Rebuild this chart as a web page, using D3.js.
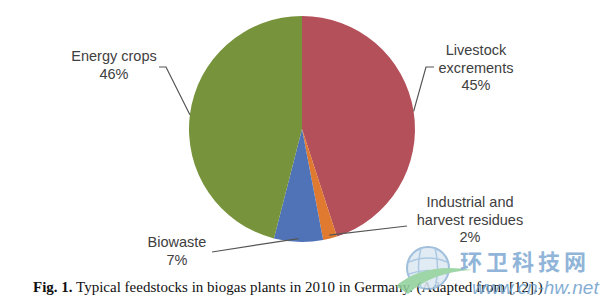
<!DOCTYPE html>
<html>
<head>
<meta charset="utf-8">
<script src="https://cdn.jsdelivr.net/npm/d3@7"></script>
<style>
	body { margin: 0; background: #fff; }
	svg { display: block; }
	.lbl { font-family: "Liberation Sans", Arial, sans-serif; font-size: 14.5px; fill: #404040; }
	.leader { fill: none; stroke: #555; stroke-width: 1.2; }
</style>
</head>
<body>
<svg id="chart" width="600" height="306"></svg>
<script>
// data
var categories = ['Livestock excrements','Industrial and harvest residues','Biowaste','Energy crops']
var shares = [45,2,7,46]
var label_lines = [
	['Livestock','excrements','45%'],
	['Industrial and','harvest residues','2%'],
	['Biowaste','7%'],
	['Energy crops','46%']
]
var colors = ['#B4505A','#E07A30','#4F73B6','#77933C']

// layout: label centre + where the leader starts (elbow optional)
var layout = [
	{x:476, y:55, leader:[[434,67],[426,67]]},
	{x:470, y:207, leader:[[407,226]]},
	{x:177, y:247, leader:[[212,252]]},
	{x:114, y:61, leader:[[159,67],[166,67]]}
]

var svg = d3.select('#chart'),
	cx = 302,
	cy = 129,
	radius = 113

var data = categories.map(function(c,i){
	return {name:c, value:shares[i], lines:label_lines[i], color:colors[i], pos:layout[i]}
})

var pie = d3.pie()
	.sort(null)
	.value(function(d){ return d.value })
var arc = d3.arc()
	.innerRadius(0)
	.outerRadius(radius)

var g = svg.append('g')
	.attr('transform','translate('+cx+','+cy+')')

var arcs = pie(data)

g.selectAll('path.slice')
	.data(arcs)
	.enter()
	.append('path')
	.attr('class','slice')
	.attr('d',arc)
	.style('fill',function(d){ return d.data.color })
	.style('stroke','none')

// leader lines end on the slice edge at its mid angle
arcs.forEach(function(d){
	var mid = (d.startAngle + d.endAngle)/2
	var r = d.index === 0 || d.index === 3 ? radius : radius*0.97
	var end = [cx + Math.sin(mid)*r, cy - Math.cos(mid)*r]
	var pts = d.data.pos.leader.concat([end])
	svg.append('path')
		.attr('class','leader')
		.attr('d',d3.line()(pts))
})

// labels
data.forEach(function(d){
	var t = svg.append('text')
		.attr('class','lbl')
		.attr('text-anchor','middle')
		.attr('x',d.pos.x)
		.attr('y',d.pos.y)
	d.lines.forEach(function(line,i){
		t.append('tspan')
			.attr('x',d.pos.x)
			.attr('dy',i === 0 ? 0 : 17.5)
			.text(line)
	})
})

// caption
var cap = svg.append('text')
	.attr('x',33)
	.attr('y',292)
	.style('font-family','"Liberation Serif", "DejaVu Serif", serif')
	.style('font-size','15px')
	.style('fill','#111')
cap.append('tspan')
	.style('font-weight','bold')
	.text('Fig. 1.')
cap.append('tspan')
	.text(' Typical feedstocks in biogas plants in 2010 in Germany. (Adapted from [12].)')

// watermark
var wm = svg.append('g').style('opacity',0.85)
wm.append('circle')
	.attr('cx',428).attr('cy',268).attr('r',21)
	.style('fill','#dbe8f3').style('stroke','#8fb4d6').style('stroke-width',2)
wm.append('path')
	.attr('d','M409,262 Q428,254 447,262 M409,274 Q428,267 447,274 M421,248 Q416,268 421,288 M435,248 Q440,268 435,288')
	.style('fill','none').style('stroke','#9fc0de').style('stroke-width',1.5)
wm.append('path')
	.attr('d','M396,286 Q424,262 472,270 Q432,272 408,294 Z')
	.style('fill','#8fcf9a')
wm.append('text')
	.attr('x',460).attr('y',270)
	.style('font-family','"Noto Sans CJK SC", sans-serif')
	.style('font-weight','bold')
	.style('font-size','22px')
	.style('letter-spacing','4px')
	.style('fill','#7ea9d2')
	.text('环卫科技网')
wm.append('text')
	.attr('x',472).attr('y',294)
	.style('font-family','"Liberation Sans", Arial, sans-serif')
	.style('font-style','italic')
	.style('font-size','19px')
	.style('fill','#6f9fcc')
	.text('www.cn-hw.net')
</script>
</body>
</html>
